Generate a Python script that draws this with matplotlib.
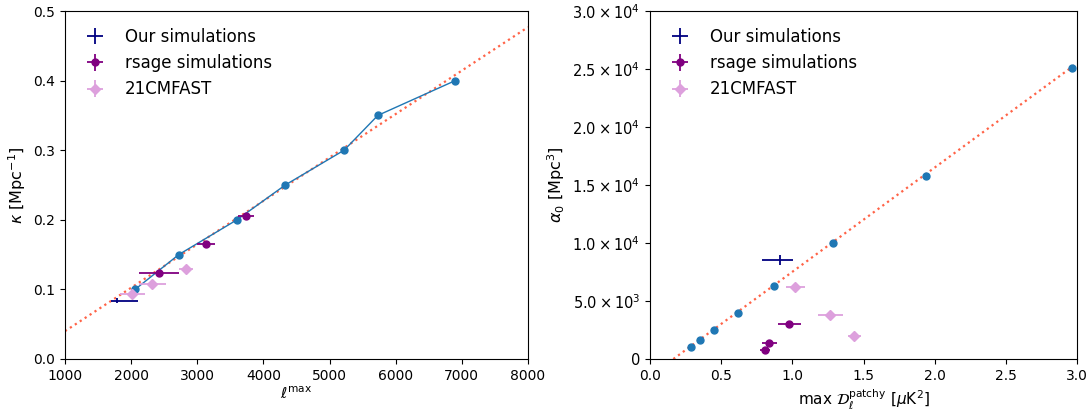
import matplotlib
matplotlib.use("Agg")
import matplotlib.pyplot as plt
import numpy as np
from matplotlib.ticker import FuncFormatter

# ---- Left panel data: kappa vs ell_max ----
lmax_fit = [2060, 2720, 3600, 4330, 5220, 5730, 6900]
kappa_fit = [0.10, 0.15, 0.20, 0.25, 0.30, 0.35, 0.40]

our_l = [1790]
our_l_err_lo = [100]
our_l_err_hi = [310]
our_kappa = [0.084]
our_kappa_err = [0.0035]

rsage_l = [2420, 3130, 3740]
rsage_l_err = [300, 140, 120]
rsage_kappa = [0.124, 0.165, 0.205]
rsage_kappa_err = [0.003, 0.003, 0.004]

cmf_l = [2015, 2320, 2825]
cmf_l_err = [190, 200, 105]
cmf_kappa = [0.0935, 0.108, 0.130]
cmf_kappa_err = [0.003, 0.003, 0.003]

kappa_slope = 6.24e-5
kappa_intercept = -0.0224

# ---- Right panel data: alpha0 vs max D_l^patchy ----
D_fit = [0.286, 0.349, 0.452, 0.616, 0.874, 1.286, 1.937, 2.968]
alpha_fit = [1000, 1600, 2500, 4000, 6300, 10000, 15800, 25100]

our_D = [0.915]
our_D_err_lo = [0.125]
our_D_err_hi = [0.088]
our_alpha = [8550]
our_alpha_err = [430]

rsage_D = [0.808, 0.839, 0.979]
rsage_D_err = [0.035, 0.055, 0.08]
rsage_alpha = [750, 1350, 3000]
rsage_alpha_err = [150, 150, 150]

cmf_D = [1.021, 1.267, 1.436]
cmf_D_err = [0.066, 0.09, 0.045]
cmf_alpha = [6200, 3800, 2000]
cmf_alpha_err = [200, 150, 200]

alpha_slope = 8988.0
alpha_x0 = 0.164

C_FIT = "#1f77b4"
C_OUR = "navy"
C_RSAGE = "purple"
C_CMF = "plum"
C_LINE = "tomato"

fig = plt.figure(figsize=(10.92, 4.12), dpi=100)
ax1 = fig.add_axes([65/1092, 53/412, 463/1092, 348/412])
ax2 = fig.add_axes([650/1092, 53/412, 427/1092, 348/412])

leg_kw = dict(loc="upper left", frameon=False, fontsize=12, handlelength=1.6,
              handletextpad=1.0, borderaxespad=0.6)

# Left panel
xl = np.array([1000, 8000])
ax1.plot(xl, kappa_intercept + kappa_slope*xl, ls=":", color=C_LINE, lw=1.6, zorder=1)
ax1.plot(lmax_fit, kappa_fit, "-o", color=C_FIT, lw=1.0, ms=5, zorder=3)
ax1.errorbar(our_l, our_kappa, xerr=[our_l_err_lo, our_l_err_hi], yerr=our_kappa_err,
             fmt="none", ecolor=C_OUR, elinewidth=1.3, label="Our simulations", zorder=4)
ax1.errorbar(rsage_l, rsage_kappa, xerr=rsage_l_err, yerr=rsage_kappa_err,
             fmt="o", color=C_RSAGE, ms=5, elinewidth=1.3, label="rsage simulations", zorder=4)
ax1.errorbar(cmf_l, cmf_kappa, xerr=cmf_l_err, yerr=cmf_kappa_err,
             fmt="D", color=C_CMF, ms=5, elinewidth=1.3, label="21CMFAST", zorder=4)
ax1.set_xlim(1000, 8000)
ax1.set_ylim(0, 0.5)
ax1.set_xticks(np.arange(1000, 8001, 1000))
ax1.set_yticks(np.arange(0, 0.51, 0.1))
ax1.yaxis.set_major_formatter(FuncFormatter(lambda v, p: f"{v:.1f}"))
ax1.set_xlabel(r"$\ell^{\rm max}$", fontsize=11, labelpad=2)
ax1.set_ylabel(r"$\kappa$ [Mpc$^{-1}$]", fontsize=11.5)
ax1.tick_params(labelsize=10)
ax1.legend(**leg_kw)

# Right panel
xr = np.array([alpha_x0, 3.0])
ax2.plot(xr, alpha_slope*(xr - alpha_x0), ls=":", color=C_LINE, lw=1.6, zorder=1)
ax2.plot(D_fit, alpha_fit, "o", color=C_FIT, ms=5, zorder=3)
ax2.errorbar(our_D, our_alpha, xerr=[our_D_err_lo, our_D_err_hi], yerr=our_alpha_err,
             fmt="none", ecolor=C_OUR, elinewidth=1.3, label="Our simulations", zorder=4)
ax2.errorbar(rsage_D, rsage_alpha, xerr=rsage_D_err, yerr=rsage_alpha_err,
             fmt="o", color=C_RSAGE, ms=5, elinewidth=1.3, label="rsage simulations", zorder=4)
ax2.errorbar(cmf_D, cmf_alpha, xerr=cmf_D_err, yerr=cmf_alpha_err,
             fmt="D", color=C_CMF, ms=5, elinewidth=1.3, label="21CMFAST", zorder=4)
ax2.set_xlim(0, 3.0)
ax2.set_ylim(0, 30000)
ax2.set_xticks(np.arange(0, 3.01, 0.5))
ax2.set_yticks(np.arange(0, 30001, 5000))


def sci_fmt(v, p):
    if v == 0:
        return "0"
    e = int(np.floor(np.log10(abs(v))))
    m = v / 10**e
    return r"$%.1f\times10^{%d}$" % (m, e)


ax2.yaxis.set_major_formatter(FuncFormatter(sci_fmt))
ax2.xaxis.set_major_formatter(FuncFormatter(lambda v, p: f"{v:.1f}"))
ax2.set_xlabel(r"max $\mathcal{D}_\ell^{\rm patchy}$ [$\mu$K$^2$]", fontsize=11)
ax2.set_ylabel(r"$\alpha_0$ [Mpc$^3$]", fontsize=11.5)
ax2.tick_params(labelsize=10)
ax2.tick_params(axis="y", labelsize=10.5)
ax2.legend(**leg_kw)

fig.savefig("out.png", dpi=100)
